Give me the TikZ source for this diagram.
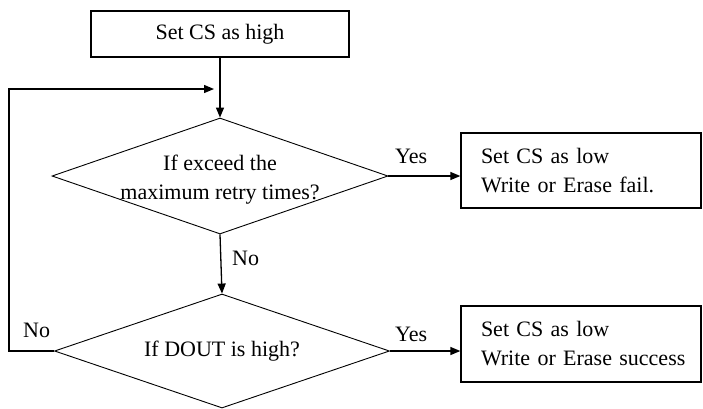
\documentclass[tikz,border=0pt]{standalone}
\usepackage{fontspec}
\setmainfont{Liberation Serif}
\usetikzlibrary{shapes.geometric,arrows.meta}
\begin{document}
\begin{tikzpicture}[x=1pt,y=-1pt,
  every node/.style={font=\fontsize{22}{29}\selectfont},
  box/.style={draw,line width=1.3pt,inner sep=0pt},
  dec/.style={draw,diamond,line width=0.9pt,inner sep=0pt},
  arr/.style={line width=1.3pt,-{Triangle[length=10pt,width=8pt]}},
  lbl/.style={inner sep=0pt,anchor=base west}]
\useasboundingbox (0,0) rectangle (703,408);
\node[box,minimum width=258pt,minimum height=46pt] (start) at (220,34) {Set CS as high};
\node[dec,minimum width=336pt,minimum height=116pt,
  label={[align=center,yshift=-3.5pt]center:If exceed the\\maximum retry times?}] (d1) at (220,176) {};
\node[dec,minimum width=335pt,minimum height=114pt,
  label={[align=center]center:If DOUT is high?}] (d2) at (222,351) {};
\node[box,text width=200pt,inner xsep=20pt,minimum height=75pt,align=left] (fail) at (581,170.5) {\mbox{Set CS as low}\\\mbox{Write or Erase fail.}};
\node[box,text width=200pt,inner xsep=20pt,minimum height=76pt,align=left] (succ) at (581,344) {\mbox{Set CS as low}\\\mbox{Write or Erase success}};
\coordinate (loopend) at (214,89);
\draw[arr] (start.south) -- (d1.north);
\draw[arr] (d1.east) -- (d1.east -| fail.west);
\draw[arr] (d1.south) -- (d2.north);
\draw[arr] (d2.east) -- (d2.east -| succ.west);
\draw[arr] (d2.west) -- ++(-45,0) |- (loopend);
\node[lbl] (yes1) at (395,163) {Yes};
\node[lbl] (yes2) at (395,341) {Yes};
\node[lbl] (no1) at (232,265) {No};
\node[lbl] (no2) at (23,337) {No};
\end{tikzpicture}
\end{document}
